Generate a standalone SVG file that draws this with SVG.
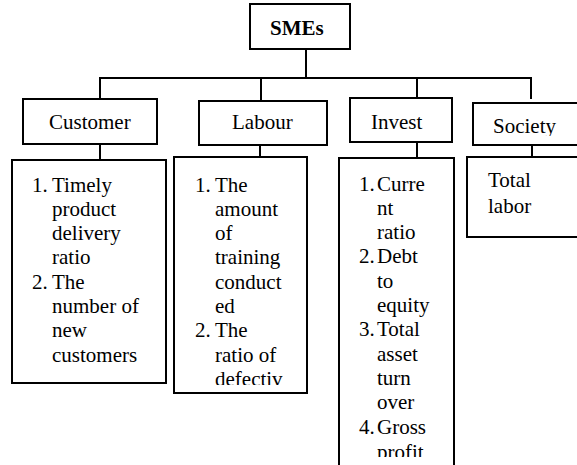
<svg xmlns="http://www.w3.org/2000/svg" width="577" height="465" viewBox="0 0 577 465">
<style>
.box{fill:#fff;stroke:#000;stroke-width:2}
.ln{stroke:#000;stroke-width:2;fill:none}
text{font-family:"Liberation Serif","Times New Roman",serif;font-size:21px;fill:#000}
.b{font-weight:bold}
</style>
<defs>
<clipPath id="cSoc"><rect x="474" y="104" width="110" height="32"/></clipPath>
<clipPath id="cLab"><rect x="175" y="158" width="131" height="227"/></clipPath>
<clipPath id="cInv"><rect x="340" y="159" width="113" height="298"/></clipPath>
</defs>
<g id="connectors">
<line class="ln" x1="306" y1="49" x2="306" y2="78"/>
<line class="ln" x1="99" y1="78" x2="532" y2="78"/>
<line class="ln" x1="100" y1="78" x2="100" y2="99"/>
<line class="ln" x1="261" y1="78" x2="261" y2="101"/>
<line class="ln" x1="417" y1="78" x2="417" y2="98"/>
<line class="ln" x1="531" y1="78" x2="531" y2="99"/>
<line class="ln" x1="100" y1="144" x2="100" y2="160"/>
<line class="ln" x1="260" y1="145" x2="260" y2="157"/>
<line class="ln" x1="417" y1="142" x2="417" y2="158"/>
<line class="ln" x1="532" y1="145" x2="532" y2="157"/>
</g>
<g id="smes">
<rect class="box" x="250" y="4" width="100" height="45"/>
<text class="b" x="270" y="35">SMEs</text>
</g>
<g id="customer">
<rect class="box" x="23" y="99" width="134" height="45"/>
<text x="49" y="129">Customer</text>
</g>
<g id="labour">
<rect class="box" x="199" y="101" width="128" height="44"/>
<text x="232" y="129">Labour</text>
</g>
<g id="invest">
<rect class="box" x="350" y="98" width="102" height="44"/>
<text x="371" y="129">Invest</text>
</g>
<g id="society">
<rect class="box" x="473" y="103" width="120" height="42"/>
<text x="493" y="133" clip-path="url(#cSoc)">Society</text>
</g>
<g id="customer-list">
<rect class="box" x="12" y="160" width="154" height="223"/>
<text x="32" y="191.5">1.</text><text x="52" y="191.5">Timely</text>
<text x="52" y="215.8">product</text>
<text x="52" y="240.1">delivery</text>
<text x="52" y="264.4">ratio</text>
<text x="32" y="288.7">2.</text><text x="52" y="288.7">The</text>
<text x="52" y="313">number of</text>
<text x="52" y="337.3">new</text>
<text x="52" y="361.6">customers</text>
</g>
<g id="labour-list">
<rect class="box" x="174" y="157" width="133" height="236"/>
<g clip-path="url(#cLab)">
<text x="195" y="191.5">1.</text><text x="215" y="191.5">The</text>
<text x="215" y="215.8">amount</text>
<text x="215" y="240.1">of</text>
<text x="215" y="264.4">training</text>
<text x="215" y="288.7">conduct</text>
<text x="215" y="313">ed</text>
<text x="195" y="337.3">2.</text><text x="215" y="337.3">The</text>
<text x="215" y="361.6">ratio of</text>
<text x="215" y="385.9">defectiv</text>
</g>
</g>
<g id="invest-list">
<rect class="box" x="339" y="158" width="115" height="320"/>
<g clip-path="url(#cInv)">
<text x="359" y="190.5">1.</text><text x="377" y="190.5">Curre</text>
<text x="377" y="214.8">nt</text>
<text x="377" y="239.1">ratio</text>
<text x="359" y="263.4">2.</text><text x="377" y="263.4">Debt</text>
<text x="377" y="287.7">to</text>
<text x="377" y="312">equity</text>
<text x="359" y="336.3">3.</text><text x="377" y="336.3">Total</text>
<text x="377" y="360.6">asset</text>
<text x="377" y="384.9">turn</text>
<text x="377" y="409.2">over</text>
<text x="359" y="433.5">4.</text><text x="377" y="433.5">Gross</text>
<text x="377" y="459">profit</text>
</g>
</g>
<g id="society-list">
<rect class="box" x="467" y="157" width="130" height="80"/>
<text x="488" y="187">Total</text>
<text x="488" y="213">labor</text>
</g>
</svg>
